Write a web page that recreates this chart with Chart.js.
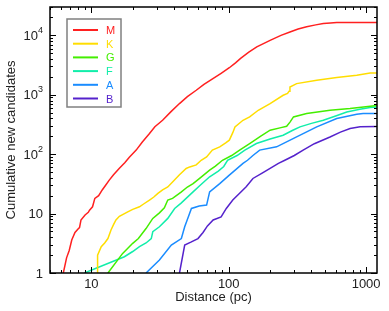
<!DOCTYPE html>
<html>
<head>
<meta charset="utf-8">
<script src="https://cdn.jsdelivr.net/npm/chart.js@4"></script>
<style>
  html, body { margin: 0; padding: 0; background: #fff; }
  canvas { display: block; }
</style>
</head>
<body>
<canvas id="chart" width="389" height="311"></canvas>
<script>
// --- Data (distance in pc, cumulative count) ---
const classes = ['M', 'K', 'G', 'F', 'A', 'B'];
const colors = ['#ff2020', '#ffdd00', '#44ee00', '#11eeaa', '#1a8cff', '#5522cc'];

const M = [[6.25,1],[6.6,1.8],[6.9,2.4],[7.2,3.6],[7.6,4.8],[8.0,5.5],[8.2,5.8],[8.4,7.8],[9.0,9.5],[9.5,10.5],[9.7,11.4],[10.2,13],[10.6,18],[11.3,20],[12,25],[12.7,30],[13.5,36.6],[14.5,45],[16,58],[17.5,72],[18.9,89],[21.2,117],[23.5,160],[26.5,223],[29,290],[33,372],[38,520],[43.8,711],[50,930],[58,1190],[66,1500],[76.7,1870],[88,2300],[101,2850],[112,3450],[122,4100],[140,5200],[160,6400],[200,8240],[240,10000],[279,11400],[320,12800],[369,14000],[430,15000],[488,15800],[550,16200],[611,16400],[1200,16400]];
const K = [[11.1,1],[11.1,2],[11.8,2.77],[12.5,3.2],[13.2,3.8],[13.9,5.3],[14.5,6.5],[15.1,7.8],[16,9],[18.4,10.7],[20,11.8],[22.4,13],[24,14.5],[26.5,16.9],[28.5,19],[30.5,21.9],[33,25],[36,28],[39,34],[43.8,45],[49,57.5],[52,61],[58,66],[63,79],[69,90],[76,117],[86,133],[95,155],[101,172],[107,230],[111,288],[127,372],[142,424],[164,548],[200,711],[249,980],[268,1050],[275,1150],[279,1350],[312,1540],[437,1750],[611,1950],[855,2130],[1070,2320],[1200,2330]];
const G = [[13.2,1],[16.9,2.14],[20,3.16],[22,3.8],[25,5.6],[28,8.3],[31.3,10.3],[34,12.5],[36,16.9],[39,18],[45,23],[50,28],[55,32],[62,40],[72.6,54],[80,63],[90,79],[105,95],[120,117],[142,151],[170,200],[200,253],[240,280],[264,295],[280,350],[296,424],[369,483],[546,548],[764,587],[1070,641],[1200,660]];
const F = [[8.9,1],[17.4,1.88],[20,2.3],[22.4,2.77],[25,3.2],[27.3,3.8],[28,4.95],[31.3,6.0],[36,8.3],[40.4,12.2],[45,15],[55,23.2],[62,30],[72.6,41.6],[84,52],[92,62],[98,79],[115,95],[131,117],[159,151],[200,180],[249,208],[290,250],[330,288],[400,330],[488,372],[600,440],[723,514],[900,570],[1070,610],[1200,625]];
const A = [[25,1],[31.3,1.65],[38.2,2.95],[45.2,3.8],[47.8,6.0],[51,9],[53.5,12.2],[61,13.4],[69,13.9],[72.6,23.2],[86,32],[101,44.4],[127,70],[137,79],[150,95],[168,117],[223,133],[312,195],[437,288],[611,398],[855,470],[950,483],[1200,483]];
const B = [[43.8,1],[47.8,2.95],[53,3.3],[59.7,3.8],[65,4.8],[70,6.2],[77,7.8],[88,8.8],[96,12.2],[107,16.9],[120,22],[134,28.2],[150,39],[175,48],[200,57.5],[230,70],[256,79],[300,95],[348,117],[420,150],[546,195],[650,235],[764,270],[904,290],[1200,292]];

const xMajor = [10, 100, 1000];
const yMajor = [1, 10, 100, 1000, 10000];

const series = [M, K, G, F, A, B];

// --- Frame, ticks, labels, legend ---
const FONT = "'Liberation Sans', Arial, sans-serif";
const framePlugin = {
    id: 'frame',
    afterDatasetsDraw(chart) {
        const { ctx, chartArea: a, scales: { x, y } } = chart;
        ctx.save();
        ctx.strokeStyle = '#000';
        ctx.lineWidth = 1.5;
        ctx.strokeRect(a.left, a.top, a.right - a.left, a.bottom - a.top);

        // ticks on all four sides, pointing inward
        ctx.lineWidth = 1;
        ctx.beginPath();
        for (let d = 1; d <= 1000; d *= 10) {
            for (let m = 1; m <= 9; m++) {
                const v = d * m;
                if (v < 5 || v > 1200) continue;
                const px = Math.round(x.getPixelForValue(v)) + 0.5;
                const len = m === 1 ? 6 : 3;
                ctx.moveTo(px, a.bottom); ctx.lineTo(px, a.bottom - len);
                ctx.moveTo(px, a.top); ctx.lineTo(px, a.top + len);
            }
        }
        for (let d = 1; d <= 10000; d *= 10) {
            for (let m = 1; m <= 9; m++) {
                const v = d * m;
                if (v > 30000) continue;
                const py = Math.round(y.getPixelForValue(v)) + 0.5;
                const len = m === 1 ? 6 : 3;
                ctx.moveTo(a.left, py); ctx.lineTo(a.left + len, py);
                ctx.moveTo(a.right, py); ctx.lineTo(a.right - len, py);
            }
        }
        ctx.stroke();

        // tick labels
        ctx.fillStyle = '#222';
        ctx.font = '13px ' + FONT;
        ctx.textAlign = 'center';
        ctx.textBaseline = 'top';
        xMajor.forEach(v => ctx.fillText(String(v), x.getPixelForValue(v), a.bottom + 5));

        ctx.textBaseline = 'middle';
        yMajor.forEach(v => {
            const py = y.getPixelForValue(v) + 1;
            const exp = Math.round(Math.log10(v));
            if (exp < 2) {
                ctx.textAlign = 'right';
                ctx.font = '13px ' + FONT;
                ctx.fillText(String(v), a.left - 7, py);
            } else {
                ctx.font = '9px ' + FONT;
                ctx.textAlign = 'right';
                const ew = ctx.measureText(String(exp)).width;
                ctx.fillText(String(exp), a.left - 7, py - 6);
                ctx.font = '13px ' + FONT;
                ctx.fillText('10', a.left - 7 - ew, py);
            }
        });

        // axis titles
        ctx.font = '13px ' + FONT;
        ctx.textAlign = 'center';
        ctx.textBaseline = 'middle';
        ctx.fillText('Distance (pc)', (a.left + a.right) / 2, 297);
        ctx.save();
        ctx.translate(11, (a.top + a.bottom) / 2);
        ctx.rotate(-Math.PI / 2);
        ctx.fillText('Cumulative new candidates', 0, 0);
        ctx.restore();

        // legend
        ctx.fillStyle = '#fff';
        ctx.fillRect(67, 19, 54, 88);
        ctx.strokeStyle = '#808080';
        ctx.lineWidth = 1.5;
        ctx.strokeRect(67, 19, 54, 88);
        ctx.font = '11px ' + FONT;
        ctx.textAlign = 'left';
        classes.forEach((c, i) => {
            const ly = 30 + i * 13.7;
            ctx.strokeStyle = colors[i];
            ctx.lineWidth = 2;
            ctx.beginPath();
            ctx.moveTo(73, ly); ctx.lineTo(98, ly);
            ctx.stroke();
            ctx.fillStyle = colors[i];
            ctx.fillText(c, 106, ly + 1);
        });
        ctx.restore();
    }
};

new Chart(document.getElementById('chart'), {
    type: 'line',
    data: {
        datasets: series.map((s, i) => ({
            label: classes[i],
            data: s.map(p => ({ x: p[0], y: p[1] })),
            borderColor: colors[i],
            borderWidth: 1.5,
            pointRadius: 0,
            tension: 0,
            fill: false
        }))
    },
    options: {
        responsive: false,
        devicePixelRatio: 1,
        animation: false,
        layout: { padding: { left: 50, right: 12, top: 7, bottom: 38 } },
        plugins: { legend: { display: false }, tooltip: { enabled: false } },
        scales: {
            x: { type: 'logarithmic', min: 5, max: 1200, display: false },
            y: { type: 'logarithmic', min: 1, max: 30000, display: false }
        }
    },
    plugins: [framePlugin]
});
</script>
</body>
</html>
